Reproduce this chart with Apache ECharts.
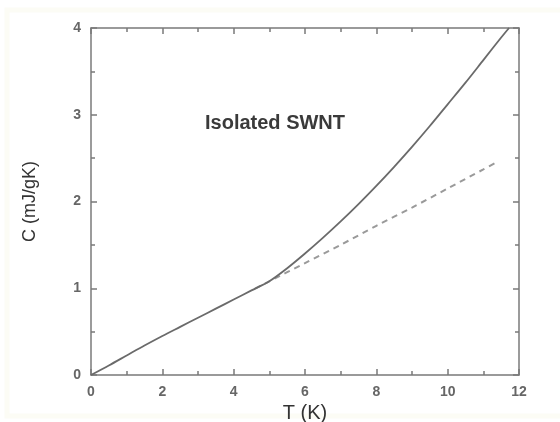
<!DOCTYPE html>
<html>
<head>
<meta charset="utf-8">
<script src="https://cdn.jsdelivr.net/npm/echarts@6/dist/echarts.min.js"></script>
<style>
html, body { margin: 0; padding: 0; background: #fff; }
#chart { width: 560px; height: 422px; }
</style>
</head>
<body>
<div id="chart"></div>
<script>
// solid curve: measured heat capacity
const tSolid = [0, 0.5, 1, 1.5, 2, 2.5, 3, 3.5, 4, 4.5, 5, 5.5, 6, 6.5, 7, 7.5, 8, 8.5, 9, 9.5, 10, 10.5, 11, 11.5, 11.72]
const cSolid = [0, 0.11, 0.225, 0.34, 0.45, 0.555, 0.66, 0.765, 0.87, 0.975, 1.08, 1.23, 1.40, 1.58, 1.77, 1.97, 2.18, 2.40, 2.63, 2.87, 3.12, 3.37, 3.63, 3.89, 4.0]
// dashed line: linear (phonon) contribution extrapolated
const tDashed = [4.6, 5, 6, 7, 8, 9, 10, 11, 11.4]
const cDashed = [0.995, 1.08, 1.29, 1.50, 1.72, 1.93, 2.15, 2.37, 2.46]
const xTicks = [0, 2, 4, 6, 8, 10, 12]
const yTicks = [0, 1, 2, 3, 4]

const pair = (xs, ys) => xs.map((x, i) => [x, ys[i]])

const font = 'Liberation Sans, Arial, sans-serif'
const axisColor = '#7a7a7a'

const chart = echarts.init(document.getElementById('chart'))

const baseAxis = {
    type: 'value',
    axisLine: { show: true, onZero: false, lineStyle: { color: axisColor, width: 1.5 } },
    axisTick: { show: true, inside: true, length: 6, lineStyle: { color: axisColor, width: 1.5 } },
    minorTick: { show: true, splitNumber: 2, length: 4, lineStyle: { color: axisColor, width: 1.5 } },
    splitLine: { show: false },
}

chart.setOption({
    backgroundColor: '#fff',
    animation: false,
    graphic: [
        {
            type: 'rect',
            shape: { x: 7, y: 10, width: 560, height: 406 },
            style: { fill: 'none', stroke: '#fcfcf5', lineWidth: 5 },
            silent: true,
        },
        {
            type: 'text',
            left: 205,
            top: 113,
            style: {
                text: 'Isolated SWNT',
                font: 'bold 20px ' + font,
                fill: '#3a3a3a',
            },
        },
    ],
    grid: {
        left: 91,
        right: 41,
        top: 28,
        bottom: 47,
        containLabel: false,
        outerBoundsMode: 'none',
    },
    xAxis: [
        Object.assign({}, baseAxis, {
            position: 'bottom',
            min: xTicks[0],
            max: xTicks[xTicks.length - 1],
            interval: 2,
            name: 'T (K)',
            nameLocation: 'middle',
            nameGap: 25,
            nameTextStyle: { fontFamily: font, fontSize: 20, color: '#333' },
            axisLabel: { margin: 10, fontFamily: font, fontSize: 14, fontWeight: 'bold', color: '#666' },
        }),
        Object.assign({}, baseAxis, {
            position: 'top',
            min: xTicks[0],
            max: xTicks[xTicks.length - 1],
            interval: 2,
            axisLabel: { show: false },
        }),
    ],
    yAxis: [
        Object.assign({}, baseAxis, {
            position: 'left',
            min: yTicks[0],
            max: yTicks[yTicks.length - 1],
            interval: 1,
            name: 'C (mJ/gK)',
            nameLocation: 'middle',
            nameGap: 52,
            nameTextStyle: { fontFamily: font, fontSize: 18, color: '#333' },
            axisLabel: { margin: 10, fontFamily: font, fontSize: 14, fontWeight: 'bold', color: '#666' },
        }),
        Object.assign({}, baseAxis, {
            position: 'right',
            min: yTicks[0],
            max: yTicks[yTicks.length - 1],
            interval: 1,
            axisLabel: { show: false },
        }),
    ],
    series: [
        {
            name: 'linear',
            type: 'line',
            data: pair(tDashed, cDashed),
            symbol: 'none',
            smooth: 0.3,
            lineStyle: { color: '#9a9a9a', width: 2, type: [6, 5] },
            z: 2,
        },
        {
            name: 'total',
            type: 'line',
            data: pair(tSolid, cSolid),
            symbol: 'none',
            smooth: 0.3,
            lineStyle: { color: '#6a6a6a', width: 1.8 },
            z: 3,
        },
    ],
})
</script>
</body>
</html>
